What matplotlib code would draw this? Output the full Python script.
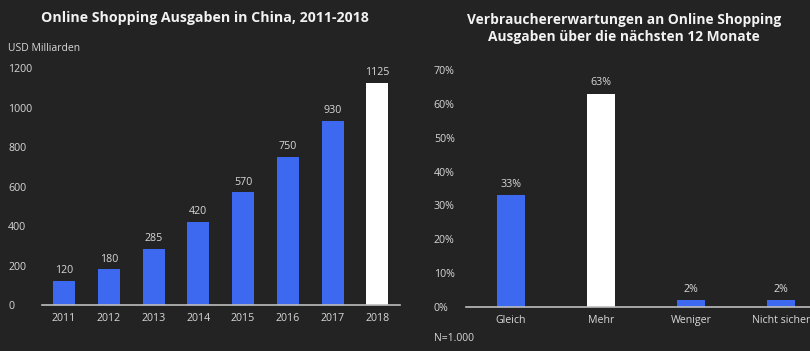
import matplotlib.pyplot as plt
import numpy as np

plt.rcParams['font.family'] = ['Open Sans', 'DejaVu Sans']

years = ['2011', '2012', '2013', '2014', '2015', '2016', '2017', '2018']
spending = [120, 180, 285, 420, 570, 750, 930, 1125]

answers = ['Gleich', 'Mehr', 'Weniger', 'Nicht sicher']
shares = [33, 63, 2, 2]

BG = '#232323'
BLUE = '#3d68f0'
WHITE = '#ffffff'
TXT = '#d8d8d8'

fig = plt.figure(figsize=(8.1, 3.51), dpi=100, facecolor=BG)


def style(ax, pad):
    ax.set_facecolor(BG)
    for s in ['top', 'right', 'left']:
        ax.spines[s].set_visible(False)
    ax.spines['bottom'].set_color('#bdbdbd')
    ax.spines['bottom'].set_linewidth(1.2)
    ax.tick_params(axis='both', length=0, colors=TXT, labelsize=7.7)
    ax.tick_params(axis='y', pad=pad)
    ax.tick_params(axis='x', pad=6)
    for lab in ax.get_yticklabels():
        lab.set_horizontalalignment('left')


# left chart
ax1 = fig.add_axes([0.052, 0.131, 0.442, 0.675])
x = np.arange(len(years))
cols = [BLUE] * (len(years) - 1) + [WHITE]
ax1.bar(x, spending, width=0.49, color=cols)
for xi, v in zip(x, spending):
    ax1.text(xi, v + 25, str(v), ha='center', va='bottom', color=TXT, fontsize=7.7)
ax1.set_xlim(-0.49, 7.51)
ax1.set_ylim(0, 1200)
ax1.set_yticks(range(0, 1201, 200))
ax1.set_xticks(x, years)
style(ax1, 24.5)
fig.text(0.253, 0.95, 'Online Shopping Ausgaben in China, 2011-2018', ha='center', va='center',
         color='#f2f2f2', fontsize=10.2, fontweight='bold')
fig.text(0.01, 0.863, 'USD Milliarden', ha='left', va='center', color=TXT, fontsize=7.5)

# right chart
ax2 = fig.add_axes([0.575, 0.125, 0.425, 0.676])
x2 = np.arange(len(answers))
cols2 = [BLUE, WHITE, BLUE, BLUE]
ax2.bar(x2, shares, width=0.31, color=cols2)
for xi, v in zip(x2, shares):
    ax2.text(xi, v + 1.5, f'{v}%', ha='center', va='bottom', color=TXT, fontsize=7.7)
ax2.set_xlim(-0.5, 3.32)
ax2.set_ylim(0, 70)
ax2.set_yticks(range(0, 71, 10), [f'{v}%' for v in range(0, 71, 10)])
ax2.set_xticks(x2, answers)
style(ax2, 23)
fig.text(0.77, 0.918, 'Verbrauchererwartungen an Online Shopping\nAusgaben über die nächsten 12 Monate',
         ha='center', va='center', color='#f2f2f2', fontsize=9.9, fontweight='bold', linespacing=1.3)
fig.text(0.536, 0.035, 'N=1.000', ha='left', va='center', color=TXT, fontsize=7.5)

fig.savefig('out.png', dpi=100, facecolor=BG)
